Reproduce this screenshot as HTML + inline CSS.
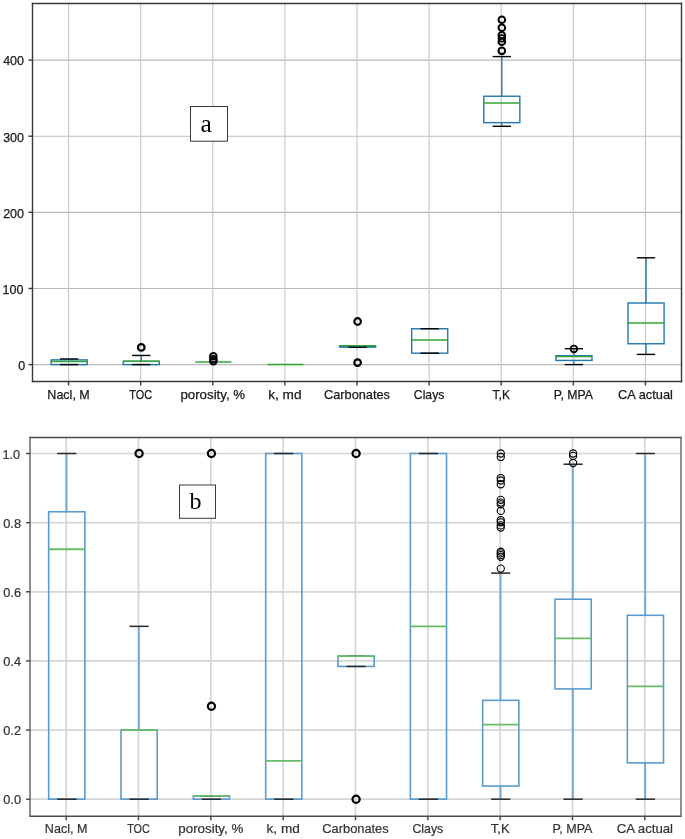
<!DOCTYPE html>
<html><head><meta charset="utf-8"><style>
html,body{margin:0;padding:0;background:#fff;}
body{width:685px;height:839px;overflow:hidden;}
svg{display:block;will-change:transform;}
.t{font-family:"Liberation Sans",sans-serif;fill:#1a1a1a;stroke:#1a1a1a;stroke-width:0.25px;}
.t2{font-family:"Liberation Sans",sans-serif;fill:#333;stroke:#333;stroke-width:0.22px;}
.s{font-family:"Liberation Serif",serif;fill:#000;}
</style></head><body>
<svg width="685" height="839" viewBox="0 0 685 839">
<rect width="685" height="839" fill="#fff"/>
<line x1="32.5" y1="364.60" x2="681.5" y2="364.60" stroke="#bababa" stroke-width="1.1"/>
<line x1="32.5" y1="288.47" x2="681.5" y2="288.47" stroke="#bababa" stroke-width="1.1"/>
<line x1="32.5" y1="212.34" x2="681.5" y2="212.34" stroke="#bababa" stroke-width="1.1"/>
<line x1="32.5" y1="136.21" x2="681.5" y2="136.21" stroke="#bababa" stroke-width="1.1"/>
<line x1="32.5" y1="60.08" x2="681.5" y2="60.08" stroke="#bababa" stroke-width="1.1"/>
<line x1="68.56" y1="3.5" x2="68.56" y2="381.5" stroke="#c6c6c6" stroke-width="1.1"/>
<line x1="140.67" y1="3.5" x2="140.67" y2="381.5" stroke="#c6c6c6" stroke-width="1.1"/>
<line x1="212.78" y1="3.5" x2="212.78" y2="381.5" stroke="#c6c6c6" stroke-width="1.1"/>
<line x1="284.89" y1="3.5" x2="284.89" y2="381.5" stroke="#c6c6c6" stroke-width="1.1"/>
<line x1="357.00" y1="3.5" x2="357.00" y2="381.5" stroke="#c6c6c6" stroke-width="1.1"/>
<line x1="429.11" y1="3.5" x2="429.11" y2="381.5" stroke="#c6c6c6" stroke-width="1.1"/>
<line x1="501.22" y1="3.5" x2="501.22" y2="381.5" stroke="#c6c6c6" stroke-width="1.1"/>
<line x1="573.33" y1="3.5" x2="573.33" y2="381.5" stroke="#c6c6c6" stroke-width="1.1"/>
<line x1="645.44" y1="3.5" x2="645.44" y2="381.5" stroke="#c6c6c6" stroke-width="1.1"/>
<line x1="69.16" y1="364.60" x2="69.16" y2="364.60" stroke="#1f77b4" stroke-width="1.4"/>
<line x1="69.16" y1="359.88" x2="69.16" y2="358.97" stroke="#1f77b4" stroke-width="1.4"/>
<rect x="51.13" y="359.88" width="36.06" height="4.72" fill="none" stroke="#1f77b4" stroke-width="1.4"/>
<line x1="60.01" y1="364.60" x2="78.31" y2="364.60" stroke="#000" stroke-width="1.4"/>
<line x1="60.01" y1="358.97" x2="78.31" y2="358.97" stroke="#000" stroke-width="1.4"/>
<line x1="51.13" y1="361.55" x2="87.18" y2="361.55" stroke="#34a434" stroke-width="1.5"/>
<line x1="141.27" y1="364.60" x2="141.27" y2="364.60" stroke="#1f77b4" stroke-width="1.4"/>
<line x1="141.27" y1="361.33" x2="141.27" y2="355.46" stroke="#1f77b4" stroke-width="1.4"/>
<rect x="123.24" y="361.33" width="36.06" height="3.27" fill="none" stroke="#1f77b4" stroke-width="1.4"/>
<line x1="132.12" y1="364.60" x2="150.42" y2="364.60" stroke="#000" stroke-width="1.4"/>
<line x1="132.12" y1="355.46" x2="150.42" y2="355.46" stroke="#000" stroke-width="1.4"/>
<line x1="123.24" y1="361.33" x2="159.29" y2="361.33" stroke="#34a434" stroke-width="1.5"/>
<circle cx="141.27" cy="347.39" r="3.3" fill="none" stroke="#000" stroke-width="2.2"/>
<line x1="213.38" y1="362.01" x2="213.38" y2="362.01" stroke="#1f77b4" stroke-width="1.4"/>
<line x1="213.38" y1="362.01" x2="213.38" y2="362.01" stroke="#1f77b4" stroke-width="1.4"/>
<rect x="195.35" y="362.01" width="36.06" height="0.00" fill="none" stroke="#1f77b4" stroke-width="1.4"/>
<line x1="195.35" y1="362.01" x2="231.41" y2="362.01" stroke="#34a434" stroke-width="1.5"/>
<circle cx="213.38" cy="361.30" r="3.3" fill="none" stroke="#000" stroke-width="1.9"/>
<circle cx="213.38" cy="359.19" r="3.3" fill="none" stroke="#000" stroke-width="1.9"/>
<circle cx="213.38" cy="356.30" r="3.3" fill="none" stroke="#000" stroke-width="1.9"/>
<line x1="285.49" y1="364.60" x2="285.49" y2="364.60" stroke="#1f77b4" stroke-width="1.4"/>
<line x1="285.49" y1="364.60" x2="285.49" y2="364.60" stroke="#1f77b4" stroke-width="1.4"/>
<rect x="267.46" y="364.60" width="36.06" height="0.00" fill="none" stroke="#1f77b4" stroke-width="1.4"/>
<line x1="267.46" y1="364.60" x2="303.52" y2="364.60" stroke="#34a434" stroke-width="1.5"/>
<line x1="357.60" y1="347.17" x2="357.60" y2="347.17" stroke="#1f77b4" stroke-width="1.4"/>
<line x1="357.60" y1="345.80" x2="357.60" y2="345.80" stroke="#1f77b4" stroke-width="1.4"/>
<rect x="339.57" y="345.80" width="36.06" height="1.37" fill="none" stroke="#1f77b4" stroke-width="1.4"/>
<line x1="348.45" y1="347.17" x2="366.75" y2="347.17" stroke="#000" stroke-width="1.4"/>
<line x1="348.45" y1="345.80" x2="366.75" y2="345.80" stroke="#000" stroke-width="1.4"/>
<line x1="339.57" y1="345.80" x2="375.63" y2="345.80" stroke="#34a434" stroke-width="1.5"/>
<circle cx="357.60" cy="321.51" r="3.3" fill="none" stroke="#000" stroke-width="2.2"/>
<circle cx="357.60" cy="362.62" r="3.3" fill="none" stroke="#000" stroke-width="2.2"/>
<line x1="429.71" y1="353.18" x2="429.71" y2="353.18" stroke="#1f77b4" stroke-width="1.4"/>
<line x1="429.71" y1="328.74" x2="429.71" y2="328.74" stroke="#1f77b4" stroke-width="1.4"/>
<rect x="411.68" y="328.74" width="36.06" height="24.44" fill="none" stroke="#1f77b4" stroke-width="1.4"/>
<line x1="420.56" y1="353.18" x2="438.86" y2="353.18" stroke="#000" stroke-width="1.4"/>
<line x1="420.56" y1="328.74" x2="438.86" y2="328.74" stroke="#000" stroke-width="1.4"/>
<line x1="411.68" y1="340.09" x2="447.74" y2="340.09" stroke="#34a434" stroke-width="1.5"/>
<line x1="501.82" y1="122.66" x2="501.82" y2="126.31" stroke="#1f77b4" stroke-width="1.4"/>
<line x1="501.82" y1="96.24" x2="501.82" y2="56.58" stroke="#1f77b4" stroke-width="1.4"/>
<rect x="483.79" y="96.24" width="36.06" height="26.42" fill="none" stroke="#1f77b4" stroke-width="1.4"/>
<line x1="492.67" y1="126.31" x2="510.97" y2="126.31" stroke="#000" stroke-width="1.4"/>
<line x1="492.67" y1="56.58" x2="510.97" y2="56.58" stroke="#000" stroke-width="1.4"/>
<line x1="483.79" y1="102.94" x2="519.85" y2="102.94" stroke="#34a434" stroke-width="1.5"/>
<circle cx="501.82" cy="19.81" r="3.3" fill="none" stroke="#000" stroke-width="2.0"/>
<circle cx="501.82" cy="27.72" r="3.3" fill="none" stroke="#000" stroke-width="2.0"/>
<circle cx="501.82" cy="35.19" r="3.3" fill="none" stroke="#000" stroke-width="2.0"/>
<circle cx="501.82" cy="38.38" r="3.3" fill="none" stroke="#000" stroke-width="1.8"/>
<circle cx="501.82" cy="41.73" r="3.3" fill="none" stroke="#000" stroke-width="2.0"/>
<circle cx="501.82" cy="50.87" r="3.3" fill="none" stroke="#000" stroke-width="2.1"/>
<line x1="573.93" y1="360.41" x2="573.93" y2="364.60" stroke="#1f77b4" stroke-width="1.4"/>
<line x1="573.93" y1="355.69" x2="573.93" y2="348.69" stroke="#1f77b4" stroke-width="1.4"/>
<rect x="555.91" y="355.69" width="36.06" height="4.72" fill="none" stroke="#1f77b4" stroke-width="1.4"/>
<line x1="564.78" y1="364.60" x2="583.08" y2="364.60" stroke="#000" stroke-width="1.4"/>
<line x1="564.78" y1="348.69" x2="583.08" y2="348.69" stroke="#000" stroke-width="1.4"/>
<line x1="555.91" y1="356.38" x2="591.96" y2="356.38" stroke="#34a434" stroke-width="1.5"/>
<circle cx="573.93" cy="348.99" r="3.3" fill="none" stroke="#000" stroke-width="1.8"/>
<line x1="646.04" y1="343.74" x2="646.04" y2="354.40" stroke="#1f77b4" stroke-width="1.4"/>
<line x1="646.04" y1="303.01" x2="646.04" y2="257.79" stroke="#1f77b4" stroke-width="1.4"/>
<rect x="628.02" y="303.01" width="36.06" height="40.73" fill="none" stroke="#1f77b4" stroke-width="1.4"/>
<line x1="636.89" y1="354.40" x2="655.19" y2="354.40" stroke="#000" stroke-width="1.4"/>
<line x1="636.89" y1="257.79" x2="655.19" y2="257.79" stroke="#000" stroke-width="1.4"/>
<line x1="628.02" y1="322.88" x2="664.07" y2="322.88" stroke="#34a434" stroke-width="1.5"/>
<line x1="32.5" y1="3.5" x2="681.5" y2="3.5" stroke="#383838" stroke-width="1.4" stroke-linecap="square"/>
<line x1="32.5" y1="381.5" x2="681.5" y2="381.5" stroke="#383838" stroke-width="1.4" stroke-linecap="square"/>
<line x1="32.5" y1="3.5" x2="32.5" y2="381.5" stroke="#383838" stroke-width="1.4" stroke-linecap="square"/>
<line x1="681.5" y1="3.5" x2="681.5" y2="381.5" stroke="#383838" stroke-width="1.4" stroke-linecap="square"/>
<line x1="28.5" y1="364.60" x2="32.5" y2="364.60" stroke="#383838" stroke-width="1.4"/>
<text x="25.30" y="370.00" text-anchor="end" class="t" font-size="12.5">0</text>
<line x1="28.5" y1="288.47" x2="32.5" y2="288.47" stroke="#383838" stroke-width="1.4"/>
<text x="23.40" y="293.87" text-anchor="end" class="t" font-size="12.5">100</text>
<line x1="28.5" y1="212.34" x2="32.5" y2="212.34" stroke="#383838" stroke-width="1.4"/>
<text x="24.00" y="217.74" text-anchor="end" class="t" font-size="12.5">200</text>
<line x1="28.5" y1="136.21" x2="32.5" y2="136.21" stroke="#383838" stroke-width="1.4"/>
<text x="24.00" y="141.61" text-anchor="end" class="t" font-size="12.5">300</text>
<line x1="28.5" y1="60.08" x2="32.5" y2="60.08" stroke="#383838" stroke-width="1.4"/>
<text x="24.00" y="65.48" text-anchor="end" class="t" font-size="12.5">400</text>
<line x1="68.56" y1="381.5" x2="68.56" y2="385.5" stroke="#383838" stroke-width="1.4"/>
<text x="68.56" y="398.5" text-anchor="middle" class="t" font-size="12.7" textLength="42.40" lengthAdjust="spacingAndGlyphs">Nacl, M</text>
<line x1="140.67" y1="381.5" x2="140.67" y2="385.5" stroke="#383838" stroke-width="1.4"/>
<text x="140.67" y="398.5" text-anchor="middle" class="t" font-size="12.7" textLength="22.80" lengthAdjust="spacingAndGlyphs">TOC</text>
<line x1="212.78" y1="381.5" x2="212.78" y2="385.5" stroke="#383838" stroke-width="1.4"/>
<text x="212.78" y="398.5" text-anchor="middle" class="t" font-size="12.7" textLength="64.70" lengthAdjust="spacingAndGlyphs">porosity, %</text>
<line x1="284.89" y1="381.5" x2="284.89" y2="385.5" stroke="#383838" stroke-width="1.4"/>
<text x="284.89" y="398.5" text-anchor="middle" class="t" font-size="12.7" textLength="33.20" lengthAdjust="spacingAndGlyphs">k, md</text>
<line x1="357.00" y1="381.5" x2="357.00" y2="385.5" stroke="#383838" stroke-width="1.4"/>
<text x="357.00" y="398.5" text-anchor="middle" class="t" font-size="12.7" textLength="65.90" lengthAdjust="spacingAndGlyphs">Carbonates</text>
<line x1="429.11" y1="381.5" x2="429.11" y2="385.5" stroke="#383838" stroke-width="1.4"/>
<text x="429.11" y="398.5" text-anchor="middle" class="t" font-size="12.7" textLength="30.50" lengthAdjust="spacingAndGlyphs">Clays</text>
<line x1="501.22" y1="381.5" x2="501.22" y2="385.5" stroke="#383838" stroke-width="1.4"/>
<text x="501.22" y="398.5" text-anchor="middle" class="t" font-size="12.7" textLength="17.40" lengthAdjust="spacingAndGlyphs">T,K</text>
<line x1="573.33" y1="381.5" x2="573.33" y2="385.5" stroke="#383838" stroke-width="1.4"/>
<text x="573.33" y="398.5" text-anchor="middle" class="t" font-size="12.7" textLength="39.00" lengthAdjust="spacingAndGlyphs">P, MPA</text>
<line x1="645.44" y1="381.5" x2="645.44" y2="385.5" stroke="#383838" stroke-width="1.4"/>
<text x="645.44" y="398.5" text-anchor="middle" class="t" font-size="12.7" textLength="54.90" lengthAdjust="spacingAndGlyphs">CA actual</text>
<rect x="190.5" y="106.5" width="37" height="34.7" fill="#fff" stroke="#3a3a3a" stroke-width="1.0"/>
<text x="200.5" y="131.6" class="s" font-size="25.5">a</text>
<line x1="30" y1="799.20" x2="681" y2="799.20" stroke="#d5d5d5" stroke-width="1.7"/>
<line x1="30" y1="730.06" x2="681" y2="730.06" stroke="#d5d5d5" stroke-width="1.7"/>
<line x1="30" y1="660.92" x2="681" y2="660.92" stroke="#d5d5d5" stroke-width="1.7"/>
<line x1="30" y1="591.78" x2="681" y2="591.78" stroke="#d5d5d5" stroke-width="1.7"/>
<line x1="30" y1="522.64" x2="681" y2="522.64" stroke="#d5d5d5" stroke-width="1.7"/>
<line x1="30" y1="453.50" x2="681" y2="453.50" stroke="#d5d5d5" stroke-width="1.7"/>
<line x1="66.17" y1="437.5" x2="66.17" y2="816.2" stroke="#d5d5d5" stroke-width="1.7"/>
<line x1="138.50" y1="437.5" x2="138.50" y2="816.2" stroke="#d5d5d5" stroke-width="1.7"/>
<line x1="210.83" y1="437.5" x2="210.83" y2="816.2" stroke="#d5d5d5" stroke-width="1.7"/>
<line x1="283.17" y1="437.5" x2="283.17" y2="816.2" stroke="#d5d5d5" stroke-width="1.7"/>
<line x1="355.50" y1="437.5" x2="355.50" y2="816.2" stroke="#d5d5d5" stroke-width="1.7"/>
<line x1="427.83" y1="437.5" x2="427.83" y2="816.2" stroke="#d5d5d5" stroke-width="1.7"/>
<line x1="500.17" y1="437.5" x2="500.17" y2="816.2" stroke="#d5d5d5" stroke-width="1.7"/>
<line x1="572.50" y1="437.5" x2="572.50" y2="816.2" stroke="#d5d5d5" stroke-width="1.7"/>
<line x1="644.83" y1="437.5" x2="644.83" y2="816.2" stroke="#d5d5d5" stroke-width="1.7"/>
<line x1="66.47" y1="799.20" x2="66.47" y2="799.20" stroke="#74aad6" stroke-width="2.0"/>
<line x1="66.47" y1="511.75" x2="66.47" y2="453.50" stroke="#74aad6" stroke-width="2.0"/>
<rect x="48.68" y="511.75" width="36.17" height="287.45" fill="none" stroke="#5a9ccf" stroke-width="1.6"/>
<line x1="57.17" y1="799.20" x2="76.37" y2="799.20" stroke="#2a2a2a" stroke-width="1.5"/>
<line x1="57.17" y1="453.50" x2="76.37" y2="453.50" stroke="#2a2a2a" stroke-width="1.5"/>
<line x1="48.68" y1="549.26" x2="84.85" y2="549.26" stroke="#68bb68" stroke-width="1.8"/>
<line x1="138.80" y1="799.20" x2="138.80" y2="799.20" stroke="#74aad6" stroke-width="2.0"/>
<line x1="138.80" y1="730.06" x2="138.80" y2="626.35" stroke="#74aad6" stroke-width="2.0"/>
<rect x="121.02" y="730.06" width="36.17" height="69.14" fill="none" stroke="#5a9ccf" stroke-width="1.6"/>
<line x1="129.50" y1="799.20" x2="148.70" y2="799.20" stroke="#2a2a2a" stroke-width="1.5"/>
<line x1="129.50" y1="626.35" x2="148.70" y2="626.35" stroke="#2a2a2a" stroke-width="1.5"/>
<line x1="121.02" y1="730.06" x2="157.18" y2="730.06" stroke="#68bb68" stroke-width="1.8"/>
<circle cx="139.10" cy="453.50" r="3.6" fill="none" stroke="#000" stroke-width="2.2"/>
<line x1="211.13" y1="799.20" x2="211.13" y2="799.20" stroke="#74aad6" stroke-width="2.0"/>
<line x1="211.13" y1="795.92" x2="211.13" y2="795.92" stroke="#74aad6" stroke-width="2.0"/>
<rect x="193.35" y="795.92" width="36.17" height="3.28" fill="none" stroke="#5a9ccf" stroke-width="1.6"/>
<line x1="201.83" y1="799.20" x2="221.03" y2="799.20" stroke="#2a2a2a" stroke-width="1.5"/>
<line x1="201.83" y1="795.92" x2="221.03" y2="795.92" stroke="#2a2a2a" stroke-width="1.5"/>
<line x1="193.35" y1="795.92" x2="229.52" y2="795.92" stroke="#68bb68" stroke-width="1.8"/>
<circle cx="211.43" cy="706.21" r="3.6" fill="none" stroke="#000" stroke-width="2.2"/>
<circle cx="211.43" cy="453.50" r="3.6" fill="none" stroke="#000" stroke-width="2.2"/>
<line x1="283.47" y1="799.20" x2="283.47" y2="799.20" stroke="#74aad6" stroke-width="2.0"/>
<line x1="283.47" y1="453.50" x2="283.47" y2="453.50" stroke="#74aad6" stroke-width="2.0"/>
<rect x="265.68" y="453.50" width="36.17" height="345.70" fill="none" stroke="#5a9ccf" stroke-width="1.6"/>
<line x1="274.17" y1="799.20" x2="293.37" y2="799.20" stroke="#2a2a2a" stroke-width="1.5"/>
<line x1="274.17" y1="453.50" x2="293.37" y2="453.50" stroke="#2a2a2a" stroke-width="1.5"/>
<line x1="265.68" y1="760.83" x2="301.85" y2="760.83" stroke="#68bb68" stroke-width="1.8"/>
<line x1="355.80" y1="666.45" x2="355.80" y2="666.45" stroke="#74aad6" stroke-width="2.0"/>
<line x1="355.80" y1="656.08" x2="355.80" y2="656.08" stroke="#74aad6" stroke-width="2.0"/>
<rect x="338.02" y="656.08" width="36.17" height="10.37" fill="none" stroke="#5a9ccf" stroke-width="1.6"/>
<line x1="346.50" y1="666.45" x2="365.70" y2="666.45" stroke="#2a2a2a" stroke-width="1.5"/>
<line x1="346.50" y1="656.08" x2="365.70" y2="656.08" stroke="#2a2a2a" stroke-width="1.5"/>
<line x1="338.02" y1="656.08" x2="374.18" y2="656.08" stroke="#68bb68" stroke-width="1.8"/>
<circle cx="356.10" cy="799.20" r="3.6" fill="none" stroke="#000" stroke-width="2.2"/>
<circle cx="356.10" cy="453.50" r="3.6" fill="none" stroke="#000" stroke-width="2.2"/>
<line x1="428.13" y1="799.20" x2="428.13" y2="799.20" stroke="#74aad6" stroke-width="2.0"/>
<line x1="428.13" y1="453.50" x2="428.13" y2="453.50" stroke="#74aad6" stroke-width="2.0"/>
<rect x="410.35" y="453.50" width="36.17" height="345.70" fill="none" stroke="#5a9ccf" stroke-width="1.6"/>
<line x1="418.83" y1="799.20" x2="438.03" y2="799.20" stroke="#2a2a2a" stroke-width="1.5"/>
<line x1="418.83" y1="453.50" x2="438.03" y2="453.50" stroke="#2a2a2a" stroke-width="1.5"/>
<line x1="410.35" y1="626.35" x2="446.52" y2="626.35" stroke="#68bb68" stroke-width="1.8"/>
<line x1="500.47" y1="786.06" x2="500.47" y2="799.20" stroke="#74aad6" stroke-width="2.0"/>
<line x1="500.47" y1="700.33" x2="500.47" y2="573.11" stroke="#74aad6" stroke-width="2.0"/>
<rect x="482.68" y="700.33" width="36.17" height="85.73" fill="none" stroke="#5a9ccf" stroke-width="1.6"/>
<line x1="491.17" y1="799.20" x2="510.37" y2="799.20" stroke="#2a2a2a" stroke-width="1.5"/>
<line x1="491.17" y1="573.11" x2="510.37" y2="573.11" stroke="#2a2a2a" stroke-width="1.5"/>
<line x1="482.68" y1="724.53" x2="518.85" y2="724.53" stroke="#68bb68" stroke-width="1.8"/>
<circle cx="500.77" cy="453.50" r="3.6" fill="none" stroke="#000" stroke-width="1.1"/>
<circle cx="500.77" cy="456.96" r="3.6" fill="none" stroke="#000" stroke-width="1.1"/>
<circle cx="500.77" cy="478.04" r="3.6" fill="none" stroke="#000" stroke-width="1.1"/>
<circle cx="500.77" cy="480.46" r="3.6" fill="none" stroke="#000" stroke-width="1.1"/>
<circle cx="500.77" cy="484.27" r="3.6" fill="none" stroke="#000" stroke-width="1.1"/>
<circle cx="500.77" cy="499.82" r="3.6" fill="none" stroke="#000" stroke-width="1.1"/>
<circle cx="500.77" cy="502.59" r="3.6" fill="none" stroke="#000" stroke-width="1.1"/>
<circle cx="500.77" cy="504.32" r="3.6" fill="none" stroke="#000" stroke-width="1.1"/>
<circle cx="500.77" cy="510.89" r="3.6" fill="none" stroke="#000" stroke-width="1.1"/>
<circle cx="500.77" cy="520.22" r="3.6" fill="none" stroke="#000" stroke-width="1.1"/>
<circle cx="500.77" cy="522.29" r="3.6" fill="none" stroke="#000" stroke-width="1.1"/>
<circle cx="500.77" cy="525.41" r="3.6" fill="none" stroke="#000" stroke-width="1.1"/>
<circle cx="500.77" cy="527.48" r="3.6" fill="none" stroke="#000" stroke-width="1.1"/>
<circle cx="500.77" cy="551.68" r="3.6" fill="none" stroke="#000" stroke-width="1.1"/>
<circle cx="500.77" cy="553.41" r="3.6" fill="none" stroke="#000" stroke-width="1.1"/>
<circle cx="500.77" cy="555.14" r="3.6" fill="none" stroke="#000" stroke-width="1.1"/>
<circle cx="500.77" cy="556.86" r="3.6" fill="none" stroke="#000" stroke-width="1.1"/>
<circle cx="500.77" cy="568.62" r="3.6" fill="none" stroke="#000" stroke-width="1.1"/>
<line x1="572.80" y1="688.92" x2="572.80" y2="799.20" stroke="#74aad6" stroke-width="2.0"/>
<line x1="572.80" y1="599.21" x2="572.80" y2="464.22" stroke="#74aad6" stroke-width="2.0"/>
<rect x="555.02" y="599.21" width="36.17" height="89.71" fill="none" stroke="#5a9ccf" stroke-width="1.6"/>
<line x1="563.50" y1="799.20" x2="582.70" y2="799.20" stroke="#2a2a2a" stroke-width="1.5"/>
<line x1="563.50" y1="464.22" x2="582.70" y2="464.22" stroke="#2a2a2a" stroke-width="1.5"/>
<line x1="555.02" y1="638.45" x2="591.18" y2="638.45" stroke="#68bb68" stroke-width="1.8"/>
<circle cx="573.10" cy="453.50" r="3.6" fill="none" stroke="#000" stroke-width="1.1"/>
<circle cx="573.10" cy="455.92" r="3.6" fill="none" stroke="#000" stroke-width="1.1"/>
<circle cx="573.10" cy="463.01" r="3.6" fill="none" stroke="#000" stroke-width="1.1"/>
<line x1="645.13" y1="762.90" x2="645.13" y2="799.20" stroke="#74aad6" stroke-width="2.0"/>
<line x1="645.13" y1="615.29" x2="645.13" y2="453.50" stroke="#74aad6" stroke-width="2.0"/>
<rect x="627.35" y="615.29" width="36.17" height="147.61" fill="none" stroke="#5a9ccf" stroke-width="1.6"/>
<line x1="635.83" y1="799.20" x2="655.03" y2="799.20" stroke="#2a2a2a" stroke-width="1.5"/>
<line x1="635.83" y1="453.50" x2="655.03" y2="453.50" stroke="#2a2a2a" stroke-width="1.5"/>
<line x1="627.35" y1="686.43" x2="663.52" y2="686.43" stroke="#68bb68" stroke-width="1.8"/>
<line x1="30" y1="437.5" x2="681" y2="437.5" stroke="#4a4a4a" stroke-width="1.5" stroke-linecap="square"/>
<line x1="30" y1="816.2" x2="681" y2="816.2" stroke="#4a4a4a" stroke-width="1.5" stroke-linecap="square"/>
<line x1="30" y1="437.5" x2="30" y2="816.2" stroke="#6a6a6a" stroke-width="1.5" stroke-linecap="square"/>
<line x1="681" y1="437.5" x2="681" y2="816.2" stroke="#6a6a6a" stroke-width="1.5" stroke-linecap="square"/>
<line x1="26" y1="799.20" x2="30" y2="799.20" stroke="#4a4a4a" stroke-width="1.5"/>
<text x="21.00" y="804.40" text-anchor="end" class="t2" font-size="12.8">0.0</text>
<line x1="26" y1="730.06" x2="30" y2="730.06" stroke="#4a4a4a" stroke-width="1.5"/>
<text x="21.00" y="735.26" text-anchor="end" class="t2" font-size="12.8">0.2</text>
<line x1="26" y1="660.92" x2="30" y2="660.92" stroke="#4a4a4a" stroke-width="1.5"/>
<text x="21.00" y="666.12" text-anchor="end" class="t2" font-size="12.8">0.4</text>
<line x1="26" y1="591.78" x2="30" y2="591.78" stroke="#4a4a4a" stroke-width="1.5"/>
<text x="21.00" y="596.98" text-anchor="end" class="t2" font-size="12.8">0.6</text>
<line x1="26" y1="522.64" x2="30" y2="522.64" stroke="#4a4a4a" stroke-width="1.5"/>
<text x="21.00" y="527.84" text-anchor="end" class="t2" font-size="12.8">0.8</text>
<line x1="26" y1="453.50" x2="30" y2="453.50" stroke="#4a4a4a" stroke-width="1.5"/>
<text x="20.20" y="458.70" text-anchor="end" class="t2" font-size="12.8">1.0</text>
<line x1="66.17" y1="816.2" x2="66.17" y2="820.2" stroke="#4a4a4a" stroke-width="1.5"/>
<text x="66.17" y="833.1" text-anchor="middle" class="t2" font-size="13.2" textLength="42.60" lengthAdjust="spacingAndGlyphs">Nacl, M</text>
<line x1="138.50" y1="816.2" x2="138.50" y2="820.2" stroke="#4a4a4a" stroke-width="1.5"/>
<text x="138.50" y="833.1" text-anchor="middle" class="t2" font-size="13.2" textLength="22.60" lengthAdjust="spacingAndGlyphs">TOC</text>
<line x1="210.83" y1="816.2" x2="210.83" y2="820.2" stroke="#4a4a4a" stroke-width="1.5"/>
<text x="210.83" y="833.1" text-anchor="middle" class="t2" font-size="13.2" textLength="65.00" lengthAdjust="spacingAndGlyphs">porosity, %</text>
<line x1="283.17" y1="816.2" x2="283.17" y2="820.2" stroke="#4a4a4a" stroke-width="1.5"/>
<text x="283.17" y="833.1" text-anchor="middle" class="t2" font-size="13.2" textLength="33.20" lengthAdjust="spacingAndGlyphs">k, md</text>
<line x1="355.50" y1="816.2" x2="355.50" y2="820.2" stroke="#4a4a4a" stroke-width="1.5"/>
<text x="355.50" y="833.1" text-anchor="middle" class="t2" font-size="13.2" textLength="66.30" lengthAdjust="spacingAndGlyphs">Carbonates</text>
<line x1="427.83" y1="816.2" x2="427.83" y2="820.2" stroke="#4a4a4a" stroke-width="1.5"/>
<text x="427.83" y="833.1" text-anchor="middle" class="t2" font-size="13.2" textLength="30.90" lengthAdjust="spacingAndGlyphs">Clays</text>
<line x1="500.17" y1="816.2" x2="500.17" y2="820.2" stroke="#4a4a4a" stroke-width="1.5"/>
<text x="500.17" y="833.1" text-anchor="middle" class="t2" font-size="13.2" textLength="18.90" lengthAdjust="spacingAndGlyphs">T,K</text>
<line x1="572.50" y1="816.2" x2="572.50" y2="820.2" stroke="#4a4a4a" stroke-width="1.5"/>
<text x="572.50" y="833.1" text-anchor="middle" class="t2" font-size="13.2" textLength="39.90" lengthAdjust="spacingAndGlyphs">P, MPA</text>
<line x1="644.83" y1="816.2" x2="644.83" y2="820.2" stroke="#4a4a4a" stroke-width="1.5"/>
<text x="644.83" y="833.1" text-anchor="middle" class="t2" font-size="13.2" textLength="56.40" lengthAdjust="spacingAndGlyphs">CA actual</text>
<rect x="179.5" y="485" width="36" height="33.3" fill="#fff" stroke="#3a3a3a" stroke-width="1.0"/>
<text x="189.6" y="509.1" class="s" font-size="24">b</text>
</svg>
</body></html>
